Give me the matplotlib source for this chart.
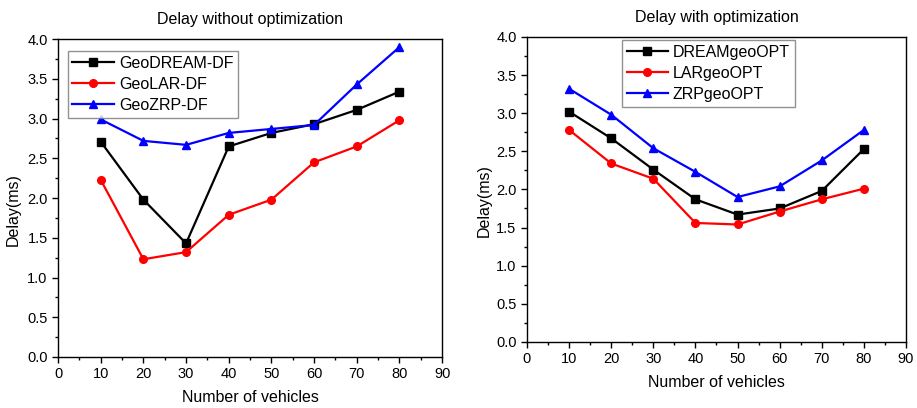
import matplotlib
matplotlib.use("Agg")
import matplotlib.pyplot as plt
from matplotlib.ticker import MultipleLocator, FormatStrFormatter

plt.rcParams['font.family'] = ['Liberation Sans', 'DejaVu Sans']

vehicles = [10, 20, 30, 40, 50, 60, 70, 80]

# Without optimization
geodream_df = [2.71, 1.98, 1.43, 2.65, 2.82, 2.93, 3.11, 3.34]
geolar_df = [2.23, 1.23, 1.32, 1.79, 1.98, 2.45, 2.65, 2.98]
geozrp_df = [2.99, 2.72, 2.67, 2.82, 2.87, 2.92, 3.43, 3.90]

# With optimization
dream_opt = [3.02, 2.67, 2.26, 1.87, 1.67, 1.75, 1.98, 2.53]
lar_opt = [2.78, 2.34, 2.14, 1.56, 1.54, 1.71, 1.87, 2.01]
zrp_opt = [3.32, 2.98, 2.54, 2.23, 1.90, 2.04, 2.38, 2.78]

labels_left = ["GeoDREAM-DF", "GeoLAR-DF", "GeoZRP-DF"]
labels_right = ["DREAMgeoOPT", "LARgeoOPT", "ZRPgeoOPT"]
x_ticks = [0, 10, 20, 30, 40, 50, 60, 70, 80, 90]

fig = plt.figure(figsize=(9.17, 4.08), dpi=100)
ax1 = fig.add_axes([0.0633, 0.125, 0.4188, 0.779])
ax2 = fig.add_axes([0.5747, 0.162, 0.4133, 0.7475])

styles = [("black", "s"), ("#ff0000", "o"), ("#0000ff", "^")]


def draw(ax, series, labels, title, legend_anchor, ylabel_xy):
    for ys, lab, (c, m) in zip(series, labels, styles):
        ax.plot(vehicles, ys, color=c, marker=m, markersize=5.5, linewidth=1.6, label=lab)
    ax.set_xlim(0, 90)
    ax.set_ylim(0, 4.0)
    ax.set_xticks(x_ticks)
    ax.xaxis.set_minor_locator(MultipleLocator(5))
    ax.yaxis.set_major_locator(MultipleLocator(0.5))
    ax.yaxis.set_minor_locator(MultipleLocator(0.25))
    ax.yaxis.set_major_formatter(FormatStrFormatter('%.1f'))
    ax.tick_params(axis='both', which='major', direction='out', length=4, width=1,
                   labelsize=10.5, top=False, right=False)
    ax.tick_params(axis='both', which='minor', direction='out', length=2.5, width=1,
                   top=False, right=False)
    for s in ax.spines.values():
        s.set_linewidth(1.0)
    ax.set_xlabel("Number of vehicles", fontsize=11.5, labelpad=6.5)
    ax.set_ylabel("Delay(ms)", fontsize=11.5)
    ax.yaxis.set_label_coords(*ylabel_xy)
    ax.set_title(title, fontsize=11.5, pad=11)
    leg = ax.legend(loc='upper left', bbox_to_anchor=legend_anchor, fontsize=11.5,
                    frameon=True, fancybox=False, edgecolor='#777777',
                    handlelength=2.6, handletextpad=0.3, borderpad=0.3,
                    labelspacing=0.38, borderaxespad=0)
    leg.get_frame().set_linewidth(1.0)


draw(ax1, [geodream_df, geolar_df, geozrp_df], labels_left,
     "Delay without optimization", (0.025, 0.963), (-0.096, 0.465))
draw(ax2, [dream_opt, lar_opt, zrp_opt], labels_right,
     "Delay with optimization", (0.25, 0.99), (-0.092, 0.462))

fig.savefig("out.png", dpi=100)
